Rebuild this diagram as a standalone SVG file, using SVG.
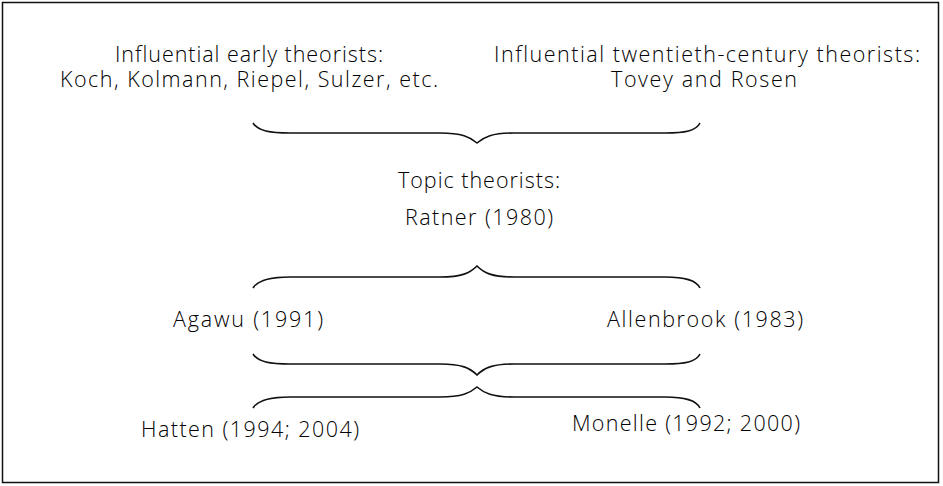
<svg xmlns="http://www.w3.org/2000/svg" width="943" height="486" viewBox="0 0 943 486">
<style>
text{font-family:"Open Sans","Liberation Sans",sans-serif;font-size:21.5px;font-weight:300;fill:#000;text-anchor:middle;font-variant-ligatures:none}
.brace{fill:none;stroke:#111;stroke-width:1.6}
</style>
<rect x="2.5" y="2.5" width="936" height="480" fill="#fff" stroke="#111" stroke-width="1.5"/>
<g id="early">
<text x="249" y="62" textLength="268" lengthAdjust="spacing">Influential early theorists:</text>
<text x="249" y="87" textLength="378" lengthAdjust="spacing">Koch, Kolmann, Riepel, Sulzer, etc.</text>
</g>
<g id="twentieth">
<text x="707" y="62" textLength="426" lengthAdjust="spacing">Influential twentieth-century theorists:</text>
<text x="704" y="87" textLength="186" lengthAdjust="spacing">Tovey and Rosen</text>
</g>
<g id="topic">
<text x="479" y="188" textLength="162" lengthAdjust="spacing">Topic theorists:</text>
<text x="479" y="225" textLength="148" lengthAdjust="spacing">Ratner (1980)</text>
</g>
<g id="agawu"><text x="248" y="327" textLength="150" lengthAdjust="spacing">Agawu (1991)</text></g>
<g id="allenbrook"><text x="705" y="327" textLength="196" lengthAdjust="spacing">Allenbrook (1983)</text></g>
<g id="hatten"><text x="250" y="437" textLength="218" lengthAdjust="spacing">Hatten (1994; 2004)</text></g>
<g id="monelle"><text x="686" y="431" textLength="228" lengthAdjust="spacing">Monelle (1992; 2000)</text></g>
<g id="connectors">
<path class="brace" d="M253,123 C258,131 270,133 290,133 L440,133 C462,133 470,137 477,143 C484,137 492,133 514,133 L665,133 C685,133 696,131 700,123"/>
<path class="brace" d="M253,288 C258,280 270,277 290,277 L440,277 C462,277 470,273 477,266 C484,273 492,277 514,277 L665,277 C685,277 696,280 700,288"/>
<path class="brace" d="M253,354 C258,362 270,364 290,364 L440,364 C462,364 470,368 477,375 C484,368 492,364 514,364 L665,364 C685,364 696,362 700,354"/>
<path class="brace" d="M253,408 C258,400 270,397 290,397 L440,397 C462,397 470,393 477,387 C484,393 492,397 514,397 L665,397 C685,397 696,400 700,408"/>
</g>
</svg>
